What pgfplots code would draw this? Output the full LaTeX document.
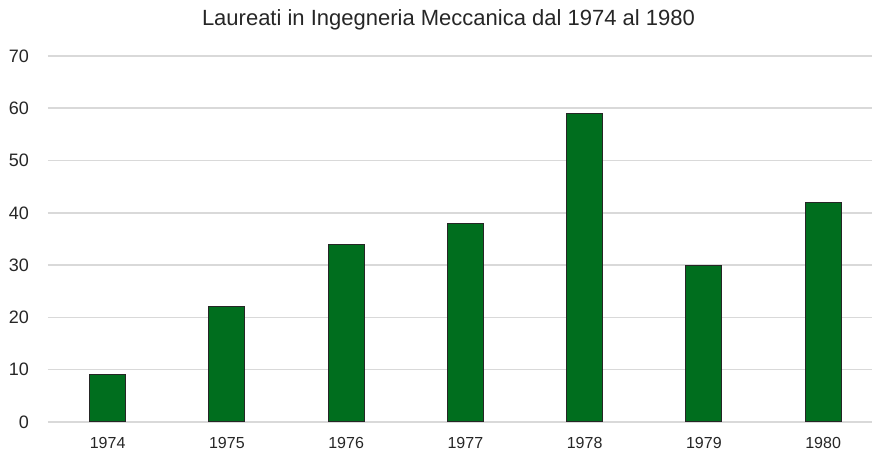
\documentclass[border=0pt]{standalone}
\usepackage{fontspec}
\setmainfont{Liberation Sans}
\usepackage{pgfplots}
\pgfplotsset{compat=1.18}

\definecolor{barfill}{RGB}{0,110,30}
\definecolor{gridgray}{RGB}{217,217,217}

\begin{document}
\begin{tikzpicture}
\begin{axis}[
    scale only axis,
    width=412pt,
    height=183pt,
    ymin=0, ymax=70,
    xmin=-0.5, xmax=6.41,
    ytick={0,10,...,70},
    xtick={0,...,6},
    xticklabels={1974,1975,1976,1977,1978,1979,1980},
    axis line style={draw=none},
    tick style={draw=none},
    ymajorgrids,
    grid style={gridgray, line width=0.8pt},
    ybar,
    bar width=0.3,
    yticklabel style={font=\fontsize{9}{10}\selectfont, text=black!85, xshift=-6pt},
    xticklabel style={font=\fontsize{8}{10}\selectfont, text=black!85},
    /pgf/number format/assume math mode=true,
    clip=false,
]
\addplot[fill=barfill, draw=black!85, line width=0.5pt] coordinates {
    (0,9) (1,22) (2,34) (3,38) (4,59) (5,30) (6,42)
};
\node[font=\fontsize{11}{13}\selectfont, text=black!85] at (rel axis cs:0.486,1) [yshift=18pt] {Laureati in Ingegneria Meccanica dal 1974 al 1980};
\coordinate (bl) at (rel axis cs:0,0);
\coordinate (tr) at (rel axis cs:1,1);
\end{axis}
\pgfresetboundingbox
\path[use as bounding box] ([shift={(-24pt,-16pt)}]bl) rectangle ([shift={(0pt,28pt)}]tr);
\end{tikzpicture}
\end{document}
